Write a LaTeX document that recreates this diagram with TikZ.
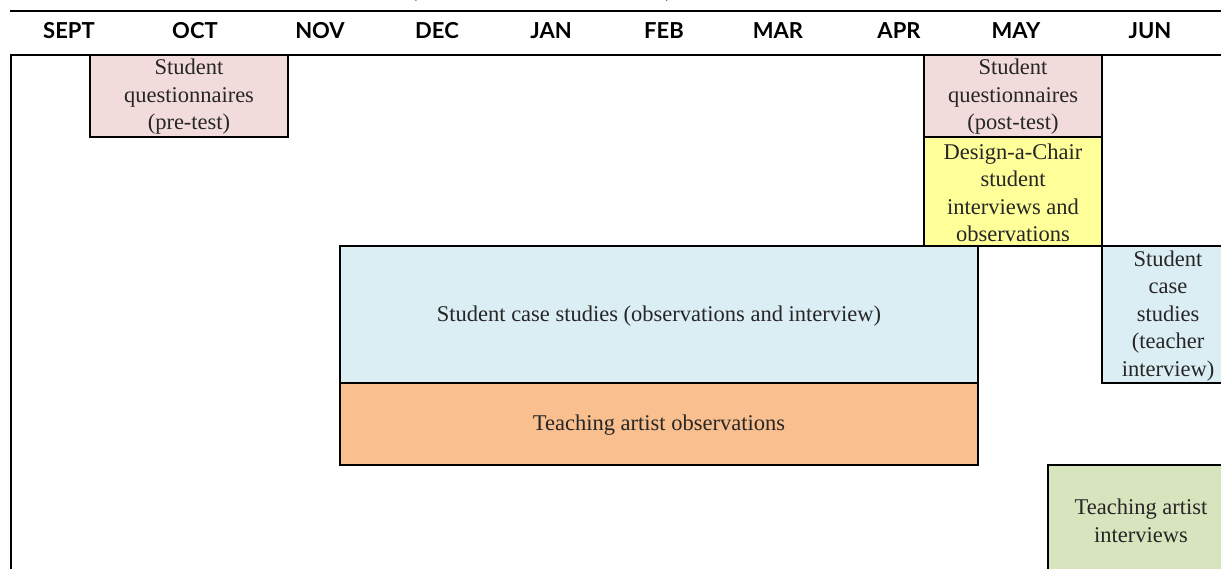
\documentclass[tikz,border=0pt]{standalone}
\usepackage{fontspec}
\setmainfont{Liberation Serif}
\setsansfont{Lato}

\definecolor{qpink}{HTML}{F2DCDB}
\definecolor{qyellow}{HTML}{FFFF99}
\definecolor{qblue}{HTML}{DBEEF4}
\definecolor{qorange}{HTML}{F9BF8F}
\definecolor{qgreen}{HTML}{D7E4BD}

\tikzset{
  rule/.style={line width=1.8pt},
  cell/.style={line width=1.6pt, draw=black},
  celltext/.style={align=center, inner sep=0pt, text=black!85,
    font=\fontsize{22.5}{27.5}\selectfont},
  month/.style={anchor=base, inner sep=0pt,
    font=\sffamily\bfseries\fontsize{22}{22}\selectfont}
}

\begin{document}
\begin{tikzpicture}[x=1pt,y=-1pt]
  \useasboundingbox (0,0) rectangle (1221,569);
  % cut-off title
  \node[month, font=\sffamily\bfseries\fontsize{24}{24}\selectfont] (title-l) at (415,-2) {(};
  \node[month, font=\sffamily\bfseries\fontsize{24}{24}\selectfont] (title-r) at (668,-2) {)};

  % boxes
  \filldraw[cell, fill=qpink] (90,55) rectangle (288,137);
  \node[celltext] (pretest) at (189,97) {Student\\questionnaires\\(pre-test)};
  \filldraw[cell, fill=qpink] (924,55) rectangle (1102,137);
  \node[celltext] (posttest) at (1013,97) {Student\\questionnaires\\(post-test)};
  \filldraw[cell, fill=qyellow] (924,137) rectangle (1102,246);
  \node[celltext] (chair) at (1013,193) {Design-a-Chair\\student\\interviews and\\observations};
  \filldraw[cell, fill=qblue] (340,246) rectangle (978,383);
  \node[celltext] (cases) at (659,316) {Student case studies (observations and interview)};
  \filldraw[cell, fill=qorange] (340,383) rectangle (978,465);
  \node[celltext] (taobs) at (659,425) {Teaching artist observations};
  \filldraw[cell, fill=qblue] (1102,246) rectangle (1240,383);
  \node[celltext] (teacher) at (1168,316) {Student\\case\\studies\\(teacher\\interview)};
  \filldraw[cell, fill=qgreen] (1048,465) rectangle (1240,590);
  \node[celltext] (taint) at (1141,521) {Teaching artist\\interviews};

  % header rules
  \draw[rule] (10,11) -- (1221,11);
  \draw[rule] (10,55) -- (1221,55);
  \draw[rule] (11,55) -- (11,569);

  % months
  \node[month] (sept) at (69,39) {SEPT};
  \node[month] (oct) at (195,39) {OCT};
  \node[month] (nov) at (320,39) {NOV};
  \node[month] (dec) at (437,39) {DEC};
  \node[month] (jan) at (551,39) {JAN};
  \node[month] (feb) at (664,39) {FEB};
  \node[month] (mar) at (778,39) {MAR};
  \node[month] (apr) at (899,39) {APR};
  \node[month] (may) at (1016,39) {MAY};
  \node[month] (jun) at (1150,39) {JUN};
\end{tikzpicture}
\end{document}
